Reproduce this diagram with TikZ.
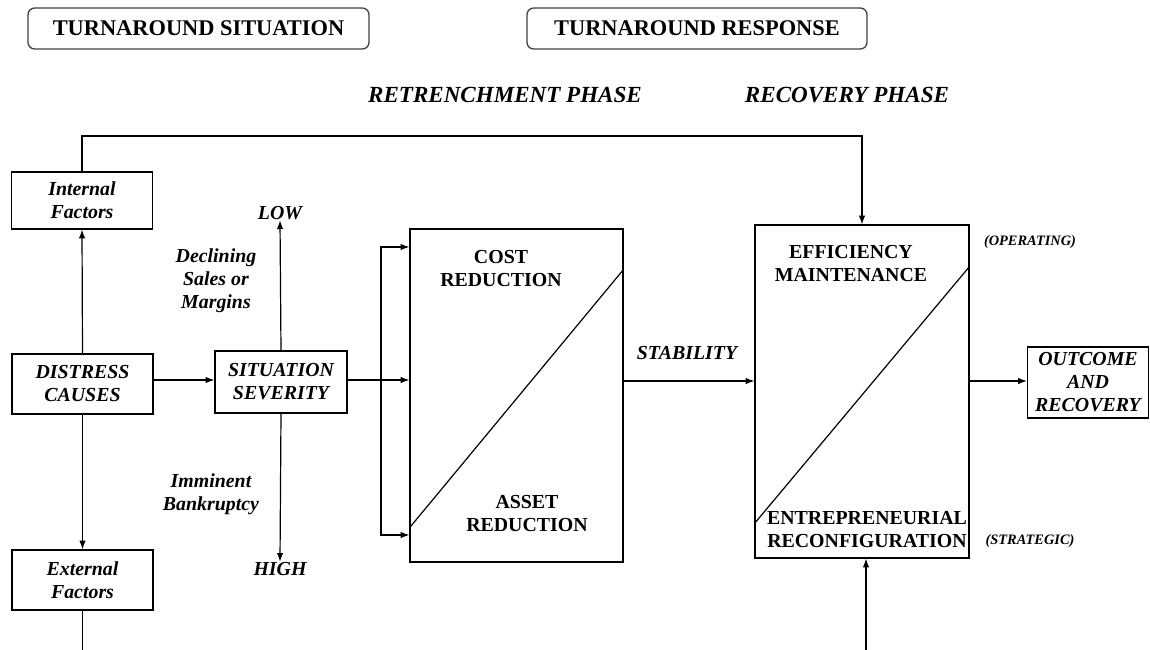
\documentclass[tikz,border=0pt]{standalone}
\usepackage{fontspec}
\setmainfont{Liberation Serif}
\newfontfamily\tnr{Liberation Serif}[
  UprightFont={* Bold},
  ItalicFont={* Bold Italic},
  BoldFont={* Bold},
  BoldItalicFont={* Bold Italic}]
\usetikzlibrary{arrows.meta,calc}

\newcommand{\bodyfont}{\tnr\fontsize{14.9}{17.25}\selectfont\bfseries}
\newcommand{\headfont}{\tnr\fontsize{16.8}{19}\selectfont\bfseries}
\newcommand{\phasefont}{\tnr\fontsize{17.3}{19}\selectfont\bfseries\itshape}
\newcommand{\smallfont}{\tnr\fontsize{10.8}{13}\selectfont\bfseries\itshape}

\tikzset{
  x=0.75pt, y=-0.75pt,
  every path/.style={line width=0.9pt},
  arr/.style={-{Latex[length=6.5pt,width=4.8pt]}},
  headbox/.style={draw=black!75, rounded corners=5pt, line width=1pt,
    font=\headfont, inner sep=0pt},
  factorbox/.style={draw, font=\bodyfont\itshape, align=center, inner sep=0pt},
  phasebox/.style={draw, inner sep=0pt},
  bodytext/.style={font=\bodyfont, align=center, inner sep=0pt},
  itext/.style={font=\bodyfont\itshape, align=center, inner sep=0pt},
  phasetitle/.style={font=\phasefont, inner sep=0pt},
  sidenote/.style={font=\smallfont, inner sep=0pt},
}

\begin{document}
\begin{tikzpicture}
\useasboundingbox (0,0) rectangle (1150,650);

% section headers
\node[headbox, minimum width=341*0.75pt, minimum height=41*0.75pt] (hsit) at (198.5,28.5) {TURNAROUND SITUATION};
\node[headbox, minimum width=340*0.75pt, minimum height=41*0.75pt] (hresp) at (697,28.5) {TURNAROUND RESPONSE};
\node[phasetitle] (pretr) at (505,95) {RETRENCHMENT PHASE};
\node[phasetitle] (precov) at (847,95) {RECOVERY PHASE};

% causes
\node[factorbox, minimum width=141*0.75pt, minimum height=57*0.75pt] (int) at (82,200.5) {Internal\\Factors};
\node[factorbox, minimum width=141*0.75pt, minimum height=60*0.75pt] (dist) at (82.5,384) {DISTRESS\\CAUSES};
\node[factorbox, minimum width=141*0.75pt, minimum height=60*0.75pt] (ext) at (82.5,580) {External\\Factors};

% severity
\node[factorbox, minimum width=132*0.75pt, minimum height=62*0.75pt] (sev) at (281,382) {SITUATION\\SEVERITY};
\node[itext] (low) at (280,213) {LOW};
\node[itext] (high) at (280,569) {HIGH};
\node[itext] (decl) at (216,281) {Declining\\Sales or\\Margins};
\node[itext] (immi) at (211,494) {Imminent\\Bankruptcy};

% retrenchment
\node[phasebox, minimum width=213*0.75pt, minimum height=333*0.75pt] (ret) at (516.5,395.5) {};
\node[bodytext] (cost) at (501,268.5) {COST\\REDUCTION};
\node[bodytext] (asset) at (527,513.5) {ASSET\\REDUCTION};
\draw ([yshift=26pt]ret.south west) -- ([yshift=-30.75pt]ret.north east);
\node[itext] (stab) at (687,353) {STABILITY};

% recovery
\node[phasebox, minimum width=214*0.75pt, minimum height=333*0.75pt] (rec) at (862,391.5) {};
\node[bodytext] (eff) at (851,263.5) {EFFICIENCY\\MAINTENANCE};
\node[bodytext] (entr) at (867,529.5) {ENTREPRENEURIAL\\RECONFIGURATION};
\draw ([yshift=26.25pt]rec.south west) -- ([yshift=-31.5pt]rec.north east);
\node[sidenote] (oper) at (1030,242) {(OPERATING)};
\node[sidenote] (strat) at (1030,541) {(STRATEGIC)};

% outcome
\node[factorbox, minimum width=121*0.75pt, minimum height=71*0.75pt] (out) at (1088,382.5) {OUTCOME\\AND\\RECOVERY};

% helper coordinates
\coordinate (topline) at (500,136);
\coordinate (flow) at (0,380);
\coordinate (flowb) at (0,381);
\coordinate (bkmid) at (381,380);
\coordinate (bktop) at (381,247);
\coordinate (bkbot) at (381,535);
\coordinate (extfoot) at (86,650);
\coordinate (recfoot) at (866,650);

% connectors
\draw[arr] (dist.north) -- (int.south);
\draw[arr] (dist.south) -- (ext.south |- ext.north);
\draw (ext.south) -- (ext.south |- extfoot);
\draw[arr] (int.north) -- (int.north |- topline) -| (rec.north);
\draw[arr] (dist.east |- flow) -- (sev.west |- flow);
\draw[arr] (sev.north) -- (low.south);
\draw[arr] (sev.south) -- (high.north);
\draw[arr] (sev.east |- bkmid) -- (ret.west |- bkmid);
\draw[arr] (bkmid) |- (ret.west |- bktop);
\draw[arr] (bkmid) |- (ret.west |- bkbot);
\draw[arr] (ret.east |- flowb) -- (rec.west |- flowb);
\draw[arr] (rec.east |- flowb) -- (out.west |- flowb);
\draw[arr] (recfoot) -- (recfoot |- rec.south);
\end{tikzpicture}
\end{document}
